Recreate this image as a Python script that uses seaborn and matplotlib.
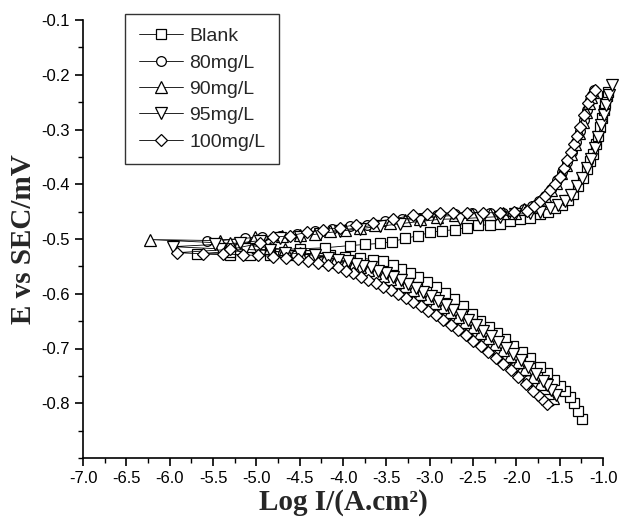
import matplotlib
matplotlib.use("Agg")
import matplotlib.pyplot as plt
from matplotlib.ticker import MultipleLocator, FixedLocator, FormatStrFormatter
import seaborn as sns
import pandas as pd

sns.set_style("ticks")
plt.rcParams['font.family'] = ['Liberation Sans', 'DejaVu Sans']

# ---------------- data (log I, E) ----------------
series_names = ["Blank", "80mg/L", "90mg/L", "95mg/L", "100mg/L"]

blank_logi = [-1.245, -1.291, -1.337, -1.383, -1.441, -1.498, -1.568, -1.648, -1.729, -1.844,
              -1.937, -2.040, -2.133, -2.225, -2.317, -2.421, -2.513, -2.617, -2.721, -2.825,
              -2.929, -3.032, -3.136, -3.228, -3.332, -3.424, -3.540, -3.655, -3.805, -3.978,
              -4.151, -4.382, -4.612, -4.843, -5.074, -5.305, -5.685,
              -5.305, -4.843, -4.497, -4.209, -3.920, -3.747, -3.574, -3.436, -3.286, -3.136,
              -2.998, -2.859, -2.709, -2.571, -2.444, -2.306, -2.190, -2.075, -1.960, -1.844,
              -1.729, -1.637, -1.556, -1.475, -1.406, -1.348, -1.291, -1.233, -1.187, -1.152,
              -1.118, -1.083, -1.060, -1.037, -1.014, -0.991, -0.979, -0.956, -0.945]
blank_e = [-0.829, -0.814, -0.800, -0.789, -0.778, -0.769, -0.758, -0.745, -0.734, -0.717,
           -0.706, -0.695, -0.682, -0.671, -0.660, -0.649, -0.637, -0.622, -0.609, -0.598,
           -0.587, -0.578, -0.569, -0.562, -0.554, -0.547, -0.541, -0.538, -0.534, -0.532,
           -0.530, -0.530, -0.529, -0.529, -0.529, -0.529, -0.527,
           -0.523, -0.519, -0.518, -0.516, -0.512, -0.510, -0.508, -0.505, -0.499, -0.494,
           -0.488, -0.485, -0.483, -0.479, -0.475, -0.474, -0.472, -0.468, -0.464, -0.461,
           -0.455, -0.450, -0.444, -0.437, -0.428, -0.417, -0.404, -0.388, -0.373, -0.358,
           -0.344, -0.327, -0.311, -0.296, -0.279, -0.265, -0.252, -0.239, -0.232]

c80_logi = [-1.614, -1.671, -1.729, -1.775, -1.867, -1.948, -2.029, -2.121, -2.213, -2.294,
            -2.375, -2.467, -2.559, -2.640, -2.732, -2.813, -2.905, -2.986, -3.078, -3.159,
            -3.251, -3.332, -3.424, -3.505, -3.597, -3.678, -3.771, -3.851, -3.944, -4.024,
            -4.140, -4.255, -4.405, -4.543, -4.693, -4.843, -5.016, -5.189, -5.570,
            -5.132, -4.935, -4.728, -4.532, -4.324, -4.128, -3.920, -3.724, -3.517, -3.321,
            -3.113, -2.917, -2.709, -2.513, -2.306, -2.156, -2.017, -1.914, -1.821, -1.741,
            -1.671, -1.602, -1.533, -1.475, -1.418, -1.360, -1.314, -1.268, -1.221, -1.187,
            -1.152, -1.129, -1.106]
c80_e = [-0.796, -0.785, -0.776, -0.770, -0.758, -0.745, -0.734, -0.721, -0.710, -0.699,
         -0.688, -0.679, -0.668, -0.659, -0.649, -0.640, -0.631, -0.624, -0.615, -0.607,
         -0.600, -0.593, -0.585, -0.580, -0.574, -0.569, -0.563, -0.558, -0.552, -0.549,
         -0.543, -0.540, -0.534, -0.530, -0.525, -0.521, -0.518, -0.512, -0.503,
         -0.499, -0.497, -0.494, -0.490, -0.486, -0.481, -0.477, -0.474, -0.468, -0.464,
         -0.461, -0.457, -0.455, -0.453, -0.453, -0.452, -0.450, -0.446, -0.439, -0.430,
         -0.421, -0.408, -0.393, -0.377, -0.360, -0.342, -0.323, -0.303, -0.283, -0.265,
         -0.247, -0.237, -0.228]

c90_logi = [-1.579, -1.637, -1.683, -1.729, -1.810, -1.902, -1.983, -2.075, -2.156, -2.248,
            -2.329, -2.421, -2.502, -2.594, -2.675, -2.767, -2.848, -2.940, -3.021, -3.113,
            -3.194, -3.286, -3.367, -3.459, -3.540, -3.632, -3.713, -3.805, -3.886, -3.978,
            -4.093, -4.209, -4.359, -4.497, -4.670, -4.843, -5.074, -5.305, -6.227,
            -5.420, -5.016, -4.705, -4.497, -4.324, -4.151, -3.978, -3.805, -3.632, -3.459,
            -3.286, -3.113, -2.917, -2.709, -2.513, -2.306, -2.156, -2.017, -1.914, -1.821,
            -1.741, -1.671, -1.602, -1.544, -1.487, -1.429, -1.371, -1.325, -1.279, -1.233,
            -1.198, -1.164, -1.141, -1.118]
c90_e = [-0.790, -0.781, -0.772, -0.765, -0.752, -0.737, -0.725, -0.714, -0.703, -0.692,
         -0.681, -0.671, -0.660, -0.651, -0.642, -0.633, -0.624, -0.616, -0.607, -0.600,
         -0.593, -0.585, -0.578, -0.573, -0.567, -0.562, -0.556, -0.552, -0.549, -0.545,
         -0.540, -0.536, -0.530, -0.525, -0.519, -0.516, -0.512, -0.508, -0.501,
         -0.503, -0.497, -0.494, -0.492, -0.490, -0.486, -0.483, -0.479, -0.474, -0.470,
         -0.466, -0.463, -0.459, -0.457, -0.455, -0.455, -0.453, -0.452, -0.446, -0.441,
         -0.432, -0.422, -0.410, -0.397, -0.380, -0.364, -0.345, -0.327, -0.307, -0.287,
         -0.268, -0.252, -0.241, -0.232]

c95_logi = [-1.544, -1.602, -1.648, -1.694, -1.775, -1.867, -1.948, -2.040, -2.121, -2.213,
            -2.294, -2.386, -2.467, -2.559, -2.640, -2.732, -2.813, -2.905, -2.986, -3.078,
            -3.159, -3.251, -3.332, -3.424, -3.505, -3.597, -3.678, -3.771, -3.851, -3.944,
            -4.059, -4.174, -4.324, -4.497, -4.670, -4.843, -5.132, -5.420, -5.962,
            -5.478, -5.189, -4.959, -4.728, -4.497, -4.266, -4.036, -3.805, -3.574, -3.344,
            -3.113, -2.882, -2.652, -2.421, -2.190, -2.017, -1.844, -1.729, -1.614, -1.521,
            -1.441, -1.371, -1.302, -1.245, -1.187, -1.141, -1.095, -1.060, -1.025, -0.991,
            -0.968, -0.933, -0.899]
c95_e = [-0.785, -0.776, -0.767, -0.759, -0.747, -0.734, -0.721, -0.710, -0.699, -0.688,
         -0.677, -0.668, -0.657, -0.648, -0.638, -0.629, -0.620, -0.613, -0.604, -0.596,
         -0.589, -0.582, -0.574, -0.569, -0.563, -0.558, -0.552, -0.549, -0.545, -0.541,
         -0.538, -0.534, -0.530, -0.527, -0.525, -0.521, -0.519, -0.518, -0.514,
         -0.510, -0.507, -0.503, -0.499, -0.496, -0.490, -0.486, -0.481, -0.477, -0.472,
         -0.468, -0.464, -0.463, -0.461, -0.459, -0.455, -0.453, -0.450, -0.444, -0.437,
         -0.430, -0.419, -0.404, -0.388, -0.371, -0.353, -0.334, -0.314, -0.292, -0.274,
         -0.256, -0.237, -0.219]

c100_logi = [-1.648, -1.706, -1.752, -1.810, -1.891, -1.983, -2.063, -2.156, -2.236, -2.329,
             -2.409, -2.502, -2.582, -2.675, -2.756, -2.848, -2.929, -3.021, -3.102, -3.194,
             -3.275, -3.367, -3.448, -3.540, -3.621, -3.713, -3.794, -3.886, -3.967, -4.059,
             -4.174, -4.290, -4.405, -4.520, -4.659, -4.809, -4.982, -5.155, -5.385, -5.616,
             -5.916,
             -5.305, -4.959, -4.809, -4.612, -4.416, -4.232, -4.036, -3.851, -3.655, -3.424,
             -3.194, -3.032, -2.882, -2.732, -2.571, -2.386, -2.190, -2.029, -1.879, -1.798,
             -1.729, -1.671, -1.614, -1.556, -1.498, -1.452, -1.418, -1.371, -1.337, -1.302,
             -1.268, -1.221, -1.175, -1.141, -1.095]
c100_e = [-0.801, -0.792, -0.785, -0.778, -0.765, -0.752, -0.739, -0.728, -0.717, -0.706,
          -0.695, -0.686, -0.675, -0.666, -0.657, -0.648, -0.638, -0.631, -0.622, -0.615,
          -0.607, -0.600, -0.593, -0.587, -0.580, -0.574, -0.569, -0.563, -0.558, -0.552,
          -0.547, -0.543, -0.540, -0.536, -0.534, -0.532, -0.530, -0.529, -0.527, -0.527,
          -0.525,
          -0.519, -0.508, -0.497, -0.494, -0.488, -0.483, -0.479, -0.474, -0.470, -0.463,
          -0.457, -0.455, -0.453, -0.452, -0.452, -0.452, -0.452, -0.450, -0.448, -0.439,
          -0.430, -0.421, -0.411, -0.399, -0.386, -0.371, -0.356, -0.342, -0.327, -0.311,
          -0.296, -0.274, -0.252, -0.239, -0.228]

x_ticks = [-7.0, -6.5, -6.0, -5.5, -5.0, -4.5, -4.0, -3.5, -3.0, -2.5, -2.0, -1.5, -1.0]
y_ticks = [-0.8, -0.7, -0.6, -0.5, -0.4, -0.3, -0.2, -0.1]

series_x = [blank_logi, c80_logi, c90_logi, c95_logi, c100_logi]
series_y = [blank_e, c80_e, c90_e, c95_e, c100_e]
markers = ["s", "o", "^", "v", "D"]
msizes = [6.5, 7, 8, 8, 6.5]

# ---------------- figure ----------------
W, H = 633, 524
fig = plt.figure(figsize=(W / 100, H / 100), dpi=100)
ax = fig.add_axes([83 / W, 66 / H, (603 - 83) / W, (458 - 20) / H])

for name, xs, ys, mk, ms in zip(series_names, series_x, series_y, markers, msizes):
    df = pd.DataFrame({"logI": xs, "E": ys})
    sns.lineplot(data=df, x="logI", y="E", sort=False, estimator=None, ax=ax,
                 color="black", linewidth=0.6, marker=mk, markersize=ms,
                 markerfacecolor="white", markeredgecolor="black", markeredgewidth=0.9,
                 label=name, clip_on=False)

ax.set_xlim(-7.0, -1.0)
ax.set_ylim(-0.9, -0.1)
ax.xaxis.set_major_locator(FixedLocator(x_ticks))
ax.xaxis.set_minor_locator(MultipleLocator(0.25))
ax.yaxis.set_major_locator(FixedLocator(y_ticks))
ax.yaxis.set_minor_locator(MultipleLocator(0.05))
ax.xaxis.set_major_formatter(FormatStrFormatter("%.1f"))
ax.yaxis.set_major_formatter(FormatStrFormatter("%.1f"))

for s in ["top", "right"]:
    ax.spines[s].set_visible(False)
for s in ["left", "bottom"]:
    ax.spines[s].set_linewidth(1.2)
    ax.spines[s].set_color("black")

ax.tick_params(which="major", direction="out", length=6, width=1.2, labelsize=12, colors="black")
ax.tick_params(which="minor", direction="out", length=3.5, width=1.0, colors="black")

ax.set_xlabel("Log I/(A.cm²)", fontsize=21, fontweight="bold",
              family=["Liberation Serif", "DejaVu Serif"], labelpad=2)
ax.set_ylabel("E vs SEC/mV", fontsize=21, fontweight="bold",
              family=["Liberation Serif", "DejaVu Serif"], labelpad=3)

leg = ax.legend(loc="upper left", bbox_to_anchor=(125 / W, 1 - 14 / H),
                bbox_transform=fig.transFigure, frameon=True, fancybox=False,
                shadow=False, fontsize=14, handlelength=2.3, handletextpad=0.3,
                borderpad=0.7, labelspacing=0.45, borderaxespad=0)
leg.get_frame().set_edgecolor("black")
leg.get_frame().set_linewidth(1.0)

fig.savefig("out.png", dpi=100)
